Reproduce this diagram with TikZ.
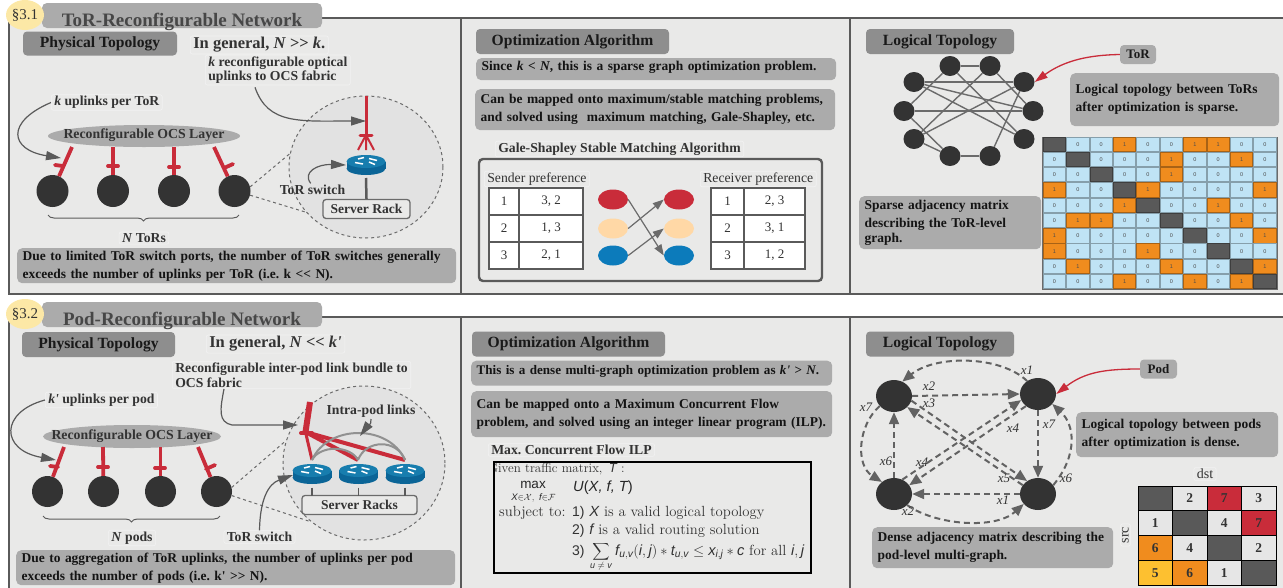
\documentclass[tikz,border=0pt]{standalone}
\usepackage{fontspec}
\usepackage{amsmath}
\usetikzlibrary{arrows.meta,shapes.geometric,decorations.pathreplacing,calc}
\newfontfamily\ls{Liberation Serif}
\newfontfamily\hv{Liberation Sans}
\newcommand\vi[1]{\text{\hv\itshape #1}}
\newcommand\fsz[1]{\fontsize{#1}{#1}\selectfont}
\frenchspacing
\definecolor{paneBg}{HTML}{E9E9E8}
\definecolor{frameC}{HTML}{5A5A5A}
\definecolor{tabC}{HTML}{ABABAB}
\definecolor{headC}{HTML}{8E8E8E}
\definecolor{redC}{HTML}{C92C3A}
\definecolor{darkC}{HTML}{333333}
\definecolor{lensC}{HTML}{E2E2E2}
\definecolor{blueC}{HTML}{0C7BBB}
\definecolor{peachC}{HTML}{FFD8A6}
\definecolor{routerTop}{HTML}{177DAE}
\definecolor{routerSide}{HTML}{0B6597}
\definecolor{sky}{HTML}{BFE3F5}
\definecolor{orangeC}{HTML}{F08C1E}
\definecolor{cellGrey}{HTML}{595959}
\definecolor{yellowC}{HTML}{FDC030}
\definecolor{ghostC}{HTML}{F2F2F2}
\definecolor{lightC}{HTML}{E6E6E6}
\definecolor{secC}{HTML}{FCE8A6}
\tikzset{
  panel/.style={draw=frameC,fill=paneBg,line width=2pt},
  divider/.style={draw=frameC,line width=2pt},
  tabbox/.style={fill=tabC,rounded corners=5pt},
  sect/.style={ellipse,fill=secC,minimum width=38pt,minimum height=30pt,inner sep=0pt,font={\ls\fsz{15}},text=darkC},
  title/.style={font={\ls\bfseries\fsz{19}},text=darkC!90!white,text height=12pt,text depth=4pt,inner sep=0pt},
  headbox/.style={fill=headC,rounded corners=4pt,font={\ls\bfseries\fsz{15.6}},text=black!90,inner sep=0pt,align=center,text height=10pt,text depth=3pt},
  note/.style={fill=tabC,rounded corners=5pt,anchor=north west,inner xsep=5.5pt,inner ysep=0pt,align=left,font={\ls\bfseries\fsz{13.45}},text=black!92,execute at begin node={\setlength{\baselineskip}{14.5pt}\vspace*{3.5pt}}},
  lbl/.style={draw=ghostC,line width=.6pt,rounded corners=2pt,inner xsep=3pt,inner ysep=1.5pt,anchor=west,align=left,font={\ls\bfseries\fsz{13.7}},text=darkC,execute at begin node={\setlength{\baselineskip}{14.5pt}}},
  ocs/.style={ellipse,fill=tabC,inner sep=0pt},
  ocstext/.style={inner sep=0pt,font={\ls\bfseries\fsz{13.8}},text=darkC},
  tor/.style={circle,fill=darkC,inner sep=0pt,minimum size=#1},
  redlink/.style={draw=redC,line width=3.8pt},
  tick/.style={draw=redC,line width=3.8pt,line cap=round},
  lens/.style={ellipse,draw=frameC!90,fill=lensC,dashed,line width=1pt,inner sep=0pt},
  lensline/.style={draw=frameC!90,dashed,line width=1pt},
  callout/.style={draw=frameC,line width=1.2pt,-{Triangle[length=15pt,width=9pt,fill=frameC]}},
  rack/.style={draw=frameC!90,fill=paneBg,line width=1.3pt,rounded corners=3pt,inner sep=0pt,font={\ls\bfseries\fsz{13.5}},text=darkC},
  tcell/.style={draw=frameC,fill=white,line width=1.6pt,inner sep=0pt,font={\ls\fsz{13}},text=darkC},
  dot/.style={ellipse,inner sep=0pt,minimum width=30pt,minimum height=20pt},
  matcharrow/.style={draw=frameC!90,line width=1.2pt,-{Triangle[length=11pt,width=8pt,fill=frameC!90]}},
  gnode/.style={ellipse,fill=darkC,inner sep=0pt,minimum width=21pt,minimum height=20pt},
  gedge/.style={draw=frameC!90,line width=1.4pt},
  pnode/.style={ellipse,fill=darkC,inner sep=0pt,minimum width=36pt,minimum height=32pt},
  dasharrow/.style={draw=frameC!95,line width=2pt,dash pattern=on 6pt off 4pt,-{Triangle[length=12pt,width=10pt,fill=frameC!95]}},
  xlab/.style={font={\ls\itshape\fsz{13}},text=darkC,inner sep=0pt},
  redarrow/.style={draw=redC,line width=1.3pt,-{Triangle[length=13pt,width=8pt,fill=redC]}},
  cellv/.style={draw=#1!70!black,line width=1pt,inner sep=0pt,minimum width=22.4pt,minimum height=14.3pt,fill=#1,font={\hv\fsz{5.5}},text=black!70},
  bigc/.style={draw=black,line width=.9pt,fill=#1,inner sep=0pt,minimum width=34.5pt,minimum height=24.75pt,font={\ls\bfseries\fsz{13.5}},text=darkC},
  ilp/.style={anchor=base west,inner sep=0pt,font={\fsz{14.7}},text=darkC},
  pics/router/.style={code={
    \fill[routerSide] (-19.5,-3.5) rectangle (19.5,3.5);
    \fill[routerSide] (0,3.5) ellipse [x radius=19.5pt,y radius=6.5pt];
    \fill[routerTop] (0,-3.5) ellipse [x radius=19.5pt,y radius=6.5pt];
    \draw[white,line width=1.5pt] (-2,-7.5)--(-8,-6) (3,-6.5)--(11,-4.5) (-11,-2.5)--(-3,-1) (3,-3)--(9,-0.5);
  }}
}
\begin{document}
\begin{tikzpicture}[x=1pt,y=-1pt]
\useasboundingbox (0,0) rectangle (1283,587);
\clip (0,0) rectangle (1283,587);
% ---------- frames
\draw[panel] (8.5,18) rectangle (1290,294);
\draw[panel] (8.5,317) rectangle (1290,600);
\draw[divider] (460.5,18) -- (460.5,294);
\draw[divider] (849.5,18) -- (849.5,294);
\draw[divider] (460.5,317) -- (460.5,590);
\draw[divider] (850,317) -- (850,590);
% ---------- tabs
\fill[tabbox] (42,3) rectangle (322,28);
\node[title] (title1) at (182,22) {ToR-Reconfigurable Network};
\node[sect] (sec1) at (25,15) {§3.1};
\fill[tabbox] (42,302) rectangle (322,327);
\node[title] (title2) at (182,321) {Pod-Reconfigurable Network};
\node[sect] (sec2) at (25,314) {§3.2};

% ================= ROW 1, LEFT
\node[headbox,minimum width=154pt,minimum height=24pt] (phys1) at (100,43.5) {Physical Topology};
\node[lbl,font={\ls\bfseries\fsz{16.5}}] (gen1) at (190,45) {In general, \textit{N} >> \textit{k}.};
\node[lbl] (rec1) at (205,70) {\textit{k} reconfigurable optical\\uplinks to OCS fabric};
\node[lbl] (kup1) at (51,102.5) {\textit{k} uplinks per ToR};
\node[ocs,minimum width=192pt,minimum height=22pt] (ocs1) at (144,136) {};
\node[ocstext] (ocs1t) at (144,135.5) {Reconfigurable OCS Layer};
\node[tor=32pt] (t1) at (52.5,191) {};
\node[tor=32pt] (t2) at (113,191) {};
\node[tor=32pt] (t3) at (174,191) {};
\node[tor=32pt] (t4) at (234.5,191) {};
\coordinate (u1) at (72,147); \coordinate (u2) at (113,147);
\coordinate (u3) at (174,147); \coordinate (u4) at (214,147);
\draw[redlink] (u1) -- (t1); \draw[redlink] (u2) -- (t2);
\draw[redlink] (u3) -- (t3); \draw[redlink] (u4) -- (t4);
\draw[tick] (55,165) -- (63,166); \draw[tick] (108,166) -- (118,166);
\draw[tick] (169,167) -- (179,167); \draw[tick] (224,168) -- (233,164);
\draw[callout] (kup1.west) .. controls (5,122) and (10,150) .. (61,158);
\draw[decorate,decoration={brace,mirror,amplitude=6pt},draw=darkC!80,line width=1pt] (48,215) -- (239,215);
\node[lbl,anchor=center] (ntor) at (144,238) {\textit{N} ToRs};
\node[note,text width=428pt,minimum height=35pt] (note1) at (17,248) {Due to limited ToR switch ports, the number of ToR switches generally\\exceeds the number of uplinks per ToR (i.e. k << N).};
% lens
\node[lens,minimum width=154pt,minimum height=142pt] (lens1) at (366,167) {};
\draw[lensline] (t4.15) -- (lens1.170);
\draw[lensline] (t4.345) -- (lens1.217);
\coordinate (up1) at (366,96); \coordinate (fan1) at (366,135);
\coordinate (fan2) at (358,150); \coordinate (fan3) at (366,150); \coordinate (fan4) at (374,150);
\draw[draw=redC,line width=3pt] (up1) -- (fan1);
\draw[tick,line width=3pt] (360,135) -- (372,135);
\draw[draw=redC,line width=2pt] (fan1) -- (fan2) (fan1) -- (fan3) (fan1) -- (fan4);
\coordinate (r1) at (366,165);
\pic at (r1) {router};
\node[rack,minimum width=87pt,minimum height=19pt] (rack1) at (366.5,209) {Server Rack};
\draw[draw=frameC,line width=2.5pt] ($(r1)+(0,13)$) -- (rack1.north);
\node[lbl,draw=none,anchor=center] (sw1) at (312.5,190) {ToR switch};
\coordinate (arr1) at (366,121);
\draw[callout] ($(rec1.south west)+(50,2)$) .. controls (268,125) and (300,121) .. (arr1);
\coordinate (arr2) at (346,165);
\draw[callout] (sw1.105) .. controls (302,172) and (318,164) .. (arr2);

% ================= ROW 1, MIDDLE
\node[headbox,minimum width=193pt,minimum height=25pt] (opt1) at (572.5,41.5) {Optimization Algorithm};
\node[note,text width=349pt,minimum height=22pt] (since) at (476,58) {Since \textit{k} < \textit{N}, this is a sparse graph optimization problem.};
\node[note,text width=349pt,minimum height=41pt] (can1) at (475,89) {Can be mapped onto maximum/stable matching problems,\\and solved using\ \ maximum matching, Gale-Shapley, etc.};
\node[lbl] (gs) at (495,149) {Gale-Shapley Stable Matching Algorithm};
\draw[draw=frameC,line width=2.4pt,rounded corners=4pt] (479,159) rectangle (822,281);
\node[lbl,anchor=west,font={\ls\fsz{13.7}}] (sp) at (484,179) {Sender preference};
\node[lbl,anchor=west,font={\ls\fsz{13.7}}] (rp) at (700,179) {Receiver preference};
\foreach \ya/\a/\b/\ca/\cb [count=\k] in {201.5/1/{3, 2}/1/{2, 3},228.5/2/{1, 3}/2/{3, 1},255.5/3/{2, 1}/3/{1, 2}}{
  \node[tcell,minimum width=30pt,minimum height=27pt] (sa\k) at (504,\ya) {\a};
  \node[tcell,minimum width=64pt,minimum height=27pt] (sb\k) at (551,\ya) {\b};
  \node[tcell,minimum width=33pt,minimum height=27pt] (ra\k) at (727.5,\ya) {\ca};
  \node[tcell,minimum width=61pt,minimum height=27pt] (rb\k) at (774.5,\ya) {\cb};
}
\node[dot,fill=redC] (l1) at (613,199.5) {};
\node[dot,fill=peachC] (l2) at (613,228.5) {};
\node[dot,fill=blueC] (l3) at (613,255.5) {};
\node[dot,fill=redC] (m1) at (679,199.5) {};
\node[dot,fill=peachC] (m2) at (679,228.5) {};
\node[dot,fill=blueC] (m3) at (679,255.5) {};
\draw[matcharrow] (l1.east) -- (m3.west);
\draw[matcharrow] (l2.east) -- (m1.west);
\draw[matcharrow] (l3.east) -- (m2.west);

% ================= ROW 1, RIGHT
\node[headbox,minimum width=148pt,minimum height=25pt] (log1) at (940,41.5) {Logical Topology};
\node[fill=tabC,rounded corners=4pt,inner sep=0pt,minimum width=36pt,minimum height=19pt,font={\ls\bfseries\fsz{13}},text=black!90] (torlab) at (1138,54.5) {ToR};
\node[gnode] (a1) at (950,66) {}; \node[gnode] (a2) at (990,66) {};
\node[gnode] (a3) at (1024,82) {}; \node[gnode] (a4) at (1033,111) {};
\node[gnode] (a5) at (1024,139) {}; \node[gnode] (a6) at (990,156) {};
\node[gnode] (a7) at (950,156) {}; \node[gnode] (a8) at (914,139) {};
\node[gnode] (a9) at (904,111) {}; \node[gnode] (a10) at (914,82) {};
\foreach \p/\q in {a1/a2,a10/a3,a9/a4,a7/a6,a1/a9,a2/a8,a1/a5,a2/a4,a10/a4,a10/a5,a8/a3,a6/a3,a9/a7,a8/a7}
  \draw[gedge] (\p) -- (\q);
\draw[redarrow] (torlab.west) .. controls (1090,55) and (1065,60) .. (a3.east);
\node[note,text width=198pt,minimum height=53pt] (lt1) at (1070,73) {Logical topology between ToRs\\after optimization is sparse.};
\node[note,text width=171pt,minimum height=53pt] (sp1) at (859,196) {Sparse adjacency matrix\\describing the ToR-level\\graph.};
\fill[frameC!90] (1042,136.5) rectangle (1277.5,289.5);
\foreach \row [count=\j from 0] in {{2,0,0,1,0,0,1,1,0,0},{0,2,0,0,0,1,0,0,1,0},{0,0,2,0,0,1,0,0,0,0},{1,0,0,2,1,0,0,0,0,1},{0,0,0,1,2,0,0,1,0,0},{0,1,1,0,0,2,0,0,1,0},{1,0,0,0,0,0,2,0,0,1},{1,0,0,0,1,0,0,2,0,0},{0,1,0,0,0,1,0,0,2,1},{0,0,0,1,0,0,1,0,1,2}}{
  \foreach \v [count=\i from 0] in \row {
    \ifnum\v=2
      \node[cellv=cellGrey] (m\j-\i) at ({1054.4+23.4*\i},{144.3+15.26*\j}) {};
    \else\ifnum\v=1
      \node[cellv=orangeC] (m\j-\i) at ({1054.4+23.4*\i},{144.3+15.26*\j}) {1};
    \else
      \node[cellv=sky] (m\j-\i) at ({1054.4+23.4*\i},{144.3+15.26*\j}) {0};
    \fi\fi
  }
}

% ================= ROW 2, LEFT
\node[headbox,minimum width=153pt,minimum height=25pt] (phys2) at (98.5,344.5) {Physical Topology};
\node[lbl,font={\ls\bfseries\fsz{16.5}}] (gen2) at (206,344) {In general, \textit{N} << \textit{k'}};
\node[lbl] (rec2) at (172,375) {Reconfigurable inter-pod link bundle to\\OCS fabric};
\node[lbl] (kup2) at (45,400) {\textit{k'} uplinks per pod};
\node[ocs,minimum width=178pt,minimum height=23pt] (ocs2) at (132,436.5) {};
\node[ocstext] (ocs2t) at (132,436) {Reconfigurable OCS Layer};
\node[tor=31pt] (p1) at (47.5,491.5) {};
\node[tor=31pt] (p2) at (103.5,491.5) {};
\node[tor=31pt] (p3) at (160.5,491.5) {};
\node[tor=31pt] (p4) at (216.5,491.5) {};
\coordinate (v1) at (64,447); \coordinate (v2) at (103,447);
\coordinate (v3) at (160.5,447); \coordinate (v4) at (198,447);
\draw[redlink] (v1) -- (p1); \draw[redlink] (v2) -- (p2);
\draw[redlink] (v3) -- (p3); \draw[redlink] (v4) -- (p4);
\draw[tick] (50,466) -- (58,467); \draw[tick] (98,467) -- (108,467);
\draw[tick] (155,468) -- (165,468); \draw[tick] (206,469) -- (215,465);
\draw[callout] (kup2.west) .. controls (0,412) and (0,450) .. (56,460);
\draw[decorate,decoration={brace,mirror,amplitude=6pt},draw=darkC!80,line width=1pt] (43,516) -- (220,516);
\node[lbl,anchor=center] (npod) at (132,538) {\textit{N} pods};
\node[note,text width=428pt,minimum height=35pt] (note2) at (16,550) {Due to aggregation of ToR uplinks, the number of uplinks per pod\\exceeds the number of pods (i.e. k' >> N).};
\node[lens,minimum width=162pt,minimum height=154pt] (lens2) at (364,463) {};
\draw[lensline] (p4.15) -- (lens2.164);
\draw[lensline] (p4.345) -- (lens2.228);
\coordinate (b0) at (310,402); \coordinate (b1) at (305.5,432);
\coordinate (b2) at (312,460); \coordinate (b3) at (358,460); \coordinate (b4) at (405,460);
\draw[draw=redC,line width=3pt] (b1) -- (b2);
\draw[draw=redC,line width=4pt] (b1) -- (b3);
\draw[draw=redC,line width=4pt] (b1) -- (b4);
\draw[draw=redC,line width=6pt] (b0) -- (b1);
\draw[tick,line width=4pt] (301,433) -- (312,433);
\draw[draw=tabC!85!black,line width=2pt] (b2) .. controls (328,424) and (389,424) .. (b4);
\draw[draw=tabC!85!black,line width=2pt] (b2) .. controls (320,445) and (350,445) .. (b3);
\draw[draw=tabC!85!black,line width=2pt] (b3) .. controls (366,439) and (397,439) .. (b4);
\coordinate (r2a) at (312,474); \coordinate (r2b) at (358.5,474); \coordinate (r2c) at (405,474);
\pic at (r2a) {router}; \pic at (r2b) {router}; \pic at (r2c) {router};
\node[rack,minimum width=115pt,minimum height=19pt] (rack2) at (359.5,505) {Server Racks};
\foreach \c in {r2a,r2b,r2c}
  \draw[draw=frameC,line width=1.5pt] ($(\c)+(0,13.5)$) -- ($(\c)+(0,21.5)$);
\node[lbl,draw=none,anchor=center] (intra) at (371,411) {Intra-pod links};
\coordinate (arcp) at (360,436);
\draw[callout] (intra.south) .. controls (372,425) and (366,428) .. (arcp);
\coordinate (arr3) at (298,425);
\draw[callout] ($(rec2.south west)+(52,0)$) .. controls (220,410) and (218,422) .. (232,425) -- (arr3);
\node[lbl,anchor=center] (sw2) at (259.5,537) {ToR switch};
\coordinate (arr4) at (293,475);
\draw[callout] (sw2.north) .. controls (260,500) and (268,484) .. (arr4);

% ================= ROW 2, MIDDLE
\node[headbox,minimum width=193pt,minimum height=25pt] (opt2) at (568.5,344) {Optimization Algorithm};
\node[note,text width=350pt,minimum height=25pt,font={\ls\bfseries\fsz{13.1}}] (dense) at (471,360.5) {This is a dense multi-graph optimization problem as \textit{k'} > \textit{N}.};
\node[note,text width=350pt,minimum height=46pt] (can2) at (471,391) {Can be mapped onto a Maximum Concurrent Flow\\problem, and solved using an integer linear program (ILP).};
\node[lbl] (mcf) at (488,450) {Max. Concurrent Flow ILP};
\begin{scope}
\clip (495,463) rectangle (809,572);
\node[ilp,font={\fsz{13}}] (giv) at (488,472.5) {Given traffic matrix, \,\vi{T}\,\,:};
\node[ilp,anchor=center,font={\hv\fsz{13.5}},text=black!85] (mx) at (533,485) {max};
\node[ilp,anchor=center,font={\fsz{9.5}},text=black!85] (mxs) at (533.5,497.5) {$\vi{X}{\in}\mathcal{X},\ \vi{f}{\in}\mathcal{F}$};
\node[ilp,text=black!85] (uf) at (573,491) {\hv\itshape\fsz{14.7}U\upshape(\itshape X, f, T\upshape)};
\node[ilp] (sj) at (499,516) {subject to:};
\node[ilp] (c1) at (572,516) {{\hv\fsz{14}1)} {\hv\itshape X} is a valid logical topology};
\node[ilp] (c2) at (572,534) {{\hv\fsz{14}2)} {\hv\itshape f} is a valid routing solution};
\node[ilp] (c3a) at (572,555) {{\hv\fsz{14}3)}};
\node[ilp,anchor=center,font={\fsz{12.5}}] (c3s) at (601,551.5) {$\displaystyle\sum$};
\node[ilp,anchor=center,font={\fsz{9}}] (c3u) at (601,566.5) {$\vi{u}\neq\vi{v}$};
\node[ilp] (c3) at (615,555) {$\vi{f}_{\vi{u},\vi{v}}(\vi{i},\vi{j})*\vi{t}_{\vi{u},\vi{v}}\le \vi{x}_{\vi{i},\vi{j}}*\vi{c}$ for all $\vi{i},\vi{j}$};
\end{scope}
\draw[black,line width=2.4pt] (494,462) rectangle (811,573);

% ================= ROW 2, RIGHT
\node[headbox,minimum width=148pt,minimum height=25pt] (log2) at (940,344) {Logical Topology};
\node[fill=tabC,rounded corners=4pt,inner sep=0pt,minimum width=37pt,minimum height=19pt,font={\ls\bfseries\fsz{13}},text=black!90] (podlab) at (1158.5,369) {Pod};
\node[pnode] (pa) at (894,396) {}; \node[pnode] (pb) at (1038,394) {};
\node[pnode] (pc) at (894,494) {}; \node[pnode] (pd) at (1038,494) {};
\draw[redarrow] (podlab.west) .. controls (1105,369) and (1085,372) .. (pb.east);
\draw[dasharrow] (pb.130) .. controls (1000,355) and (935,355) .. (pa.60);
\draw[dasharrow] (pa.east) -- (pb.west);
\draw[dasharrow] (pa.345) -- (pd.130);
\draw[dasharrow] (pd.150) -- (pa.320);
\draw[dasharrow] (pc.60) -- (pb.200);
\draw[dasharrow] (pb.225) -- (pc.30);
\draw[dasharrow] (pc.north) -- (pa.south);
\draw[dasharrow] (pa.215) .. controls (858,425) and (855,465) .. (pc.135);
\draw[dasharrow] (pb.south) -- (pd.north);
\draw[dasharrow] (pd.30) .. controls (1078,455) and (1075,425) .. (pb.325);
\draw[dasharrow] (pd.west) -- (pc.east);
\draw[dasharrow] (pc.320) .. controls (935,525) and (995,530) .. (pd.215);
\node[xlab] (xa) at (1027,370) {x1}; \node[xlab] (xb) at (929,386) {x2};
\node[xlab] (xc) at (929,403) {x3}; \node[xlab] (xd) at (1013,428) {x4};
\node[xlab] (xe) at (1049,424) {x7}; \node[xlab] (xf) at (866,407) {x7};
\node[xlab] (xg) at (886,461) {x6}; \node[xlab] (xh) at (922,462) {x4};
\node[xlab] (xi) at (1004,478) {x5}; \node[xlab] (xj) at (1066,478) {x6};
\node[xlab] (xk) at (1003,500) {x1}; \node[xlab] (xl) at (908,511) {x2};
\node[note,text width=191pt,minimum height=45pt] (lt2) at (1076,412) {Logical topology between pods\\after optimization is dense.};
\node[note,text width=230pt,minimum height=41pt] (dn2) at (872,527) {Dense adjacency matrix describing the\\pod-level multi-graph.};
\node[lbl,anchor=center,font={\ls\fsz{14}}] (dst) at (1205,474) {dst};
\node[lbl,anchor=center,rotate=90,font={\ls\fsz{14}}] (src) at (1125.5,535) {src};
\foreach \col/\val [count=\i from 0] in {cellGrey/{},lightC/2,redC/7,lightC/3,lightC/1,cellGrey/{},lightC/4,redC/7,orangeC/6,lightC/4,cellGrey/{},lightC/2,yellowC/5,orangeC/6,lightC/1,cellGrey/{}}{
  \pgfmathtruncatemacro\cx{mod(\i,4)}
  \pgfmathtruncatemacro\cy{div(\i,4)}
  \node[bigc=\col] (n\cy-\cx) at ({1155.25+34.5*\cx},{498.4+24.75*\cy}) {\val};
}
\end{tikzpicture}
\end{document}
